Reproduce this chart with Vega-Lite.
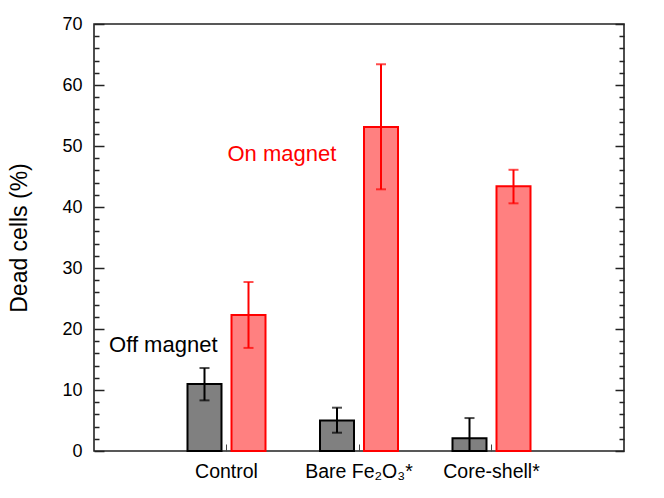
{
  "$schema": "https://vega.github.io/schema/vega-lite/v6.json",
  "width": 530,
  "height": 427,
  "autosize": {"type": "none"},
  "padding": {"left": 94, "top": 24, "right": 40, "bottom": 47},
  "background": "white",
  "config": {
    "font": "Liberation Sans",
    "view": {"stroke": "#222222", "strokeWidth": 1.6},
    "axis": {"domain": false, "grid": false, "labelFont": "Liberation Sans", "titleFont": "Liberation Sans", "labelColor": "#000000", "titleColor": "#000000"}
  },
  "data": {
    "values": [
      {"group": "Control", "series": "off", "value": 11.0, "lo": 8.3, "hi": 13.6},
      {"group": "Control", "series": "on", "value": 22.3, "lo": 16.9, "hi": 27.7},
      {"group": "Bare Fe₂O₃*", "series": "off", "value": 5.0, "lo": 3.0, "hi": 7.1},
      {"group": "Bare Fe₂O₃*", "series": "on", "value": 53.1, "lo": 42.9, "hi": 63.4},
      {"group": "Core-shell*", "series": "off", "value": 2.1, "lo": -1.3, "hi": 5.4},
      {"group": "Core-shell*", "series": "on", "value": 43.4, "lo": 40.6, "hi": 46.1}
    ]
  },
  "encoding": {
    "x": {
      "field": "group",
      "type": "nominal",
      "sort": ["Control", "Bare Fe₂O₃*", "Core-shell*"],
      "scale": {"paddingInner": 0, "paddingOuter": 0.5},
      "axis": {
        "title": null,
        "labelAngle": 0,
        "labelFontSize": 19.5,
        "labelPadding": 18,
        "tickSize": -7,
        "tickWidth": 1,
        "tickColor": "#444444",
        "labelBaseline": "top"
      }
    }
  },
  "layer": [
    {
      "mark": {"type": "bar", "strokeWidth": 2},
      "encoding": {
        "xOffset": {"field": "series", "type": "nominal", "scale": {"domain": ["off", "on"], "paddingInner": 0.2273, "paddingOuter": 0.6193}},
        "y": {
          "field": "value",
          "type": "quantitative",
          "scale": {"domain": [0, 70], "nice": false},
          "axis": {
            "orient": "left",
            "title": "Dead cells (%)",
            "titleFontSize": 23,
            "titleFontWeight": "normal",
            "titlePadding": 30,
            "values": [0, 2, 4, 6, 8, 10, 12, 14, 16, 18, 20, 22, 24, 26, 28, 30, 32, 34, 36, 38, 40, 42, 44, 46, 48, 50, 52, 54, 56, 58, 60, 62, 64, 66, 68, 70],
            "labelExpr": "datum.value % 10 === 0 ? datum.label : ''",
            "labelFontSize": 18,
            "labelPadding": 22,
            "tickSize": {"condition": {"test": "datum.value % 10 === 0", "value": -10}, "value": -5},
            "tickWidth": 1.5,
            "tickColor": "#222222"
          }
        },
        "fill": {"field": "series", "type": "nominal", "scale": {"domain": ["off", "on"], "range": ["#808080", "#ff8080"]}, "legend": null},
        "stroke": {"field": "series", "type": "nominal", "scale": {"domain": ["off", "on"], "range": ["#000000", "#ff0000"]}, "legend": null}
      }
    },
    {
      "mark": {"type": "rule", "strokeWidth": 2, "clip": true},
      "encoding": {
        "xOffset": {"field": "series", "type": "nominal", "scale": {"domain": ["off", "on"], "paddingInner": 0.2273, "paddingOuter": 0.6193}},
        "y": {
          "field": "lo",
          "type": "quantitative",
          "axis": {
            "orient": "right",
            "title": null,
            "values": [0, 2, 4, 6, 8, 10, 12, 14, 16, 18, 20, 22, 24, 26, 28, 30, 32, 34, 36, 38, 40, 42, 44, 46, 48, 50, 52, 54, 56, 58, 60, 62, 64, 66, 68, 70],
            "labels": false,
            "tickSize": {"condition": {"test": "datum.value % 10 === 0", "value": -9}, "value": -5},
            "tickWidth": 1.5,
            "tickColor": "#222222"
          }
        },
        "y2": {"field": "hi"},
        "stroke": {"field": "series", "type": "nominal", "legend": null}
      }
    },
    {
      "mark": {"type": "tick", "size": 10, "thickness": 2, "clip": true},
      "encoding": {
        "xOffset": {"field": "series", "type": "nominal", "scale": {"domain": ["off", "on"], "paddingInner": 0.2273, "paddingOuter": 0.6193}},
        "y": {"field": "lo", "type": "quantitative", "axis": null},
        "color": {"field": "series", "type": "nominal", "scale": {"domain": ["off", "on"], "range": ["#000000", "#ff0000"]}, "legend": null}
      }
    },
    {
      "mark": {"type": "tick", "size": 10, "thickness": 2, "clip": true},
      "encoding": {
        "xOffset": {"field": "series", "type": "nominal", "scale": {"domain": ["off", "on"], "paddingInner": 0.2273, "paddingOuter": 0.6193}},
        "y": {"field": "hi", "type": "quantitative", "axis": null},
        "color": {"field": "series", "type": "nominal", "scale": {"domain": ["off", "on"], "range": ["#000000", "#ff0000"]}, "legend": null}
      }
    },
    {
      "data": {"values": [{"group": "Control", "label": "On magnet", "pos": 48.7}]},
      "mark": {"type": "text", "fontSize": 22, "baseline": "middle", "align": "left", "dx": 1, "color": "#ff0000"},
      "encoding": {
        "y": {"field": "pos", "type": "quantitative", "axis": null},
        "text": {"field": "label"}
      }
    },
    {
      "data": {"values": [{"group": "Control", "label": "Off magnet", "pos": 17.3}]},
      "mark": {"type": "text", "fontSize": 22, "baseline": "middle", "align": "right", "dx": -9, "color": "#000000"},
      "encoding": {
        "y": {"field": "pos", "type": "quantitative", "axis": null},
        "text": {"field": "label"}
      }
    }
  ],
  "resolve": {"axis": {"y": "independent"}}
}
